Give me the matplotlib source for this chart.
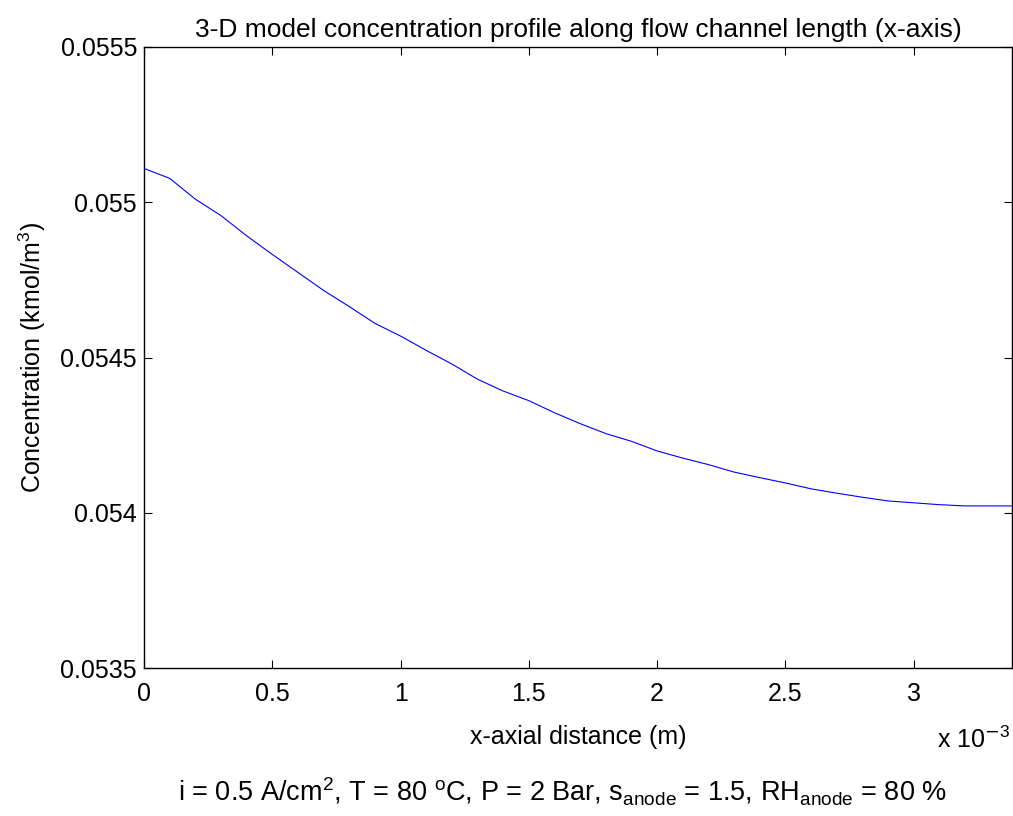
import matplotlib
matplotlib.use('Agg')
import matplotlib.pyplot as plt
from matplotlib.ticker import FuncFormatter

# values (x in metres, concentration in kmol/m^3)
x_distance = [0.0000, 0.0001, 0.0002, 0.0003, 0.0004, 0.0005, 0.0006, 0.0007,
              0.0008, 0.0009, 0.0010, 0.0011, 0.0012, 0.0013, 0.0014, 0.0015,
              0.0016, 0.0017, 0.0018, 0.0019, 0.0020, 0.0021, 0.0022, 0.0023,
              0.0024, 0.0025, 0.0026, 0.0027, 0.0028, 0.0029, 0.0030, 0.0031,
              0.0032, 0.0033, 0.0034]
concentration = [0.055109, 0.055077, 0.055010, 0.054957, 0.054892, 0.054832,
                 0.054774, 0.054716, 0.054664, 0.054610, 0.054569, 0.054523,
                 0.054479, 0.054430, 0.054392, 0.054361, 0.054322, 0.054287,
                 0.054255, 0.054230, 0.054199, 0.054176, 0.054155, 0.054131,
                 0.054113, 0.054096, 0.054077, 0.054063, 0.054050, 0.054038,
                 0.054032, 0.054026, 0.054022, 0.054022, 0.054022]
x_ticks = [0, 0.0005, 0.001, 0.0015, 0.002, 0.0025, 0.003]
y_ticks = [0.0535, 0.054, 0.0545, 0.055, 0.0555]

plt.rcParams['font.family'] = ['Liberation Sans', 'DejaVu Sans']
plt.rcParams['mathtext.default'] = 'regular'
plt.rcParams['font.size'] = 18

fig = plt.figure(figsize=(10.13, 8.16), dpi=100)
ax = fig.add_axes([144 / 1013, 1 - 668 / 816, 868 / 1013, 621 / 816])

ax.plot(x_distance, concentration, color='#0000ff', linewidth=0.8)

ax.set_xlim(0, 0.003383)
ax.set_ylim(0.0535, 0.0555)
ax.set_xticks(x_ticks)
ax.set_yticks(y_ticks)
ax.xaxis.set_major_formatter(FuncFormatter(lambda v, p: '%g' % round(v * 1e3, 6)))
ax.yaxis.set_major_formatter(FuncFormatter(lambda v, p: '%g' % round(v, 6)))
ax.tick_params(direction='in', top=True, right=True, length=6, width=0.8)
ax.tick_params(axis='x', pad=10)
ax.tick_params(axis='y', pad=5)
for s in ax.spines.values():
    s.set_linewidth(1.0)

ax.set_title('3-D model concentration profile along flow channel length (x-axis)',
             fontsize=19, pad=7)
ax.set_xlabel('x-axial distance (m)', labelpad=14)
ax.set_ylabel('Concentration (kmol/m$^3$)', labelpad=9)

# axis multiplier, MATLAB style
fig.text(1010 / 1013, 1 - 748 / 816, 'x 10$^{\\mathsf{-}3}$', ha='right', va='baseline')
fig.text(562 / 1013, 1 - 802 / 816,
         'i = 0.5 A/cm$^2$, T = 80 $^{o}$C, P = 2 Bar, s$_{anode}$ = 1.5, '
         'RH$_{anode}$ = 80 %', ha='center', va='baseline', fontsize=19.5)

fig.savefig('out.png', dpi=100)
